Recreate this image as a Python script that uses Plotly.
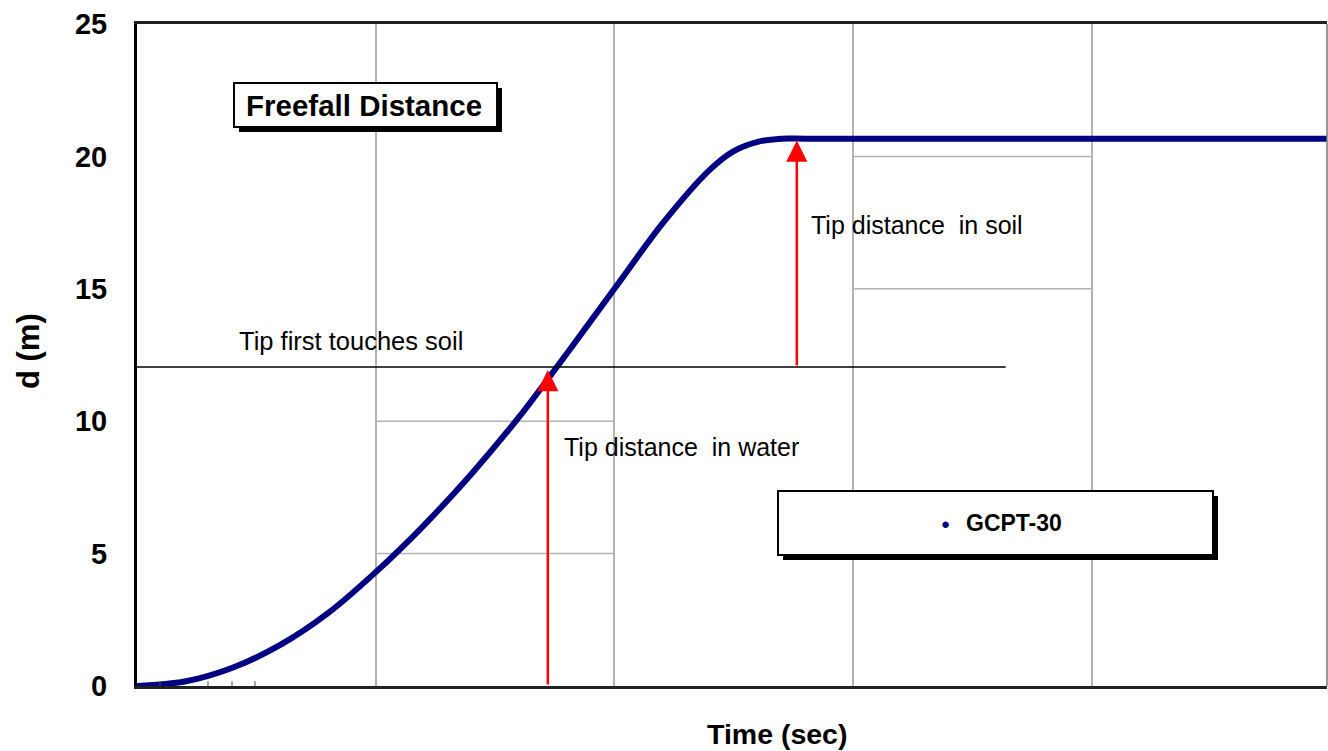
import plotly.graph_objects as go

# ---- data ----
time_s = [0.0, 0.2, 0.4, 0.6, 0.8, 1.0, 1.2, 1.4, 1.6, 1.8,
          2.0, 2.2, 2.4, 2.5, 2.6, 2.7, 2.8, 3.5, 4.985]
depth_m = [0.0, 0.17, 0.69, 1.55, 2.75, 4.3, 6.05, 8.0, 10.15, 12.55,
           15.0, 17.45, 19.5, 20.2, 20.55, 20.67, 20.67, 20.67, 20.67]
series_name = "GCPT-30"

soil_level = 12.05
soil_line_end = 3.639
arrow_water_x = 1.721
arrow_water_top = 11.93
arrow_soil_x = 2.764
arrow_soil_top = 20.6

y_ticks = [0, 5, 10, 15, 20, 25]
x_max = 4.985

W, H = 1328, 751
PL, PR, PT, PB = 137, 1327, 24, 686   # plot area in page pixels
PW, PH = PR - PL, PB - PT


def px(x):
    return (x - PL) / PW


def py(y):
    return (PB - y) / PH


NAVY = "#000080"
GRID = "#b3b3b3"
FONT = "Liberation Sans, Arial, sans-serif"

fig = go.Figure()
fig.add_trace(go.Scatter(
    x=time_s, y=depth_m, mode="lines", name=series_name,
    line=dict(color=NAVY, width=6, shape="spline", smoothing=0.9),
    showlegend=False, hoverinfo="skip",
))

shapes = []
for (x0, x1, yv) in [(1, 2, 10), (1, 2, 5), (3, 4, 20), (3, 4, 15)]:
    shapes.append(dict(type="line", xref="x", yref="y", x0=x0, x1=x1, y0=yv, y1=yv,
                       line=dict(color=GRID, width=1.5), layer="below"))
shapes.append(dict(type="line", xref="paper", yref="paper", x0=1, x1=1, y0=0, y1=1,
                   line=dict(color="#777777", width=1.5)))
shapes.append(dict(type="line", xref="x", yref="y", x0=0, x1=soil_line_end,
                   y0=soil_level, y1=soil_level, line=dict(color="black", width=1.5)))
for xp in [160, 208, 232, 255]:
    shapes.append(dict(type="line", xref="paper", yref="paper", x0=px(xp), x1=px(xp),
                       y0=0, y1=py(681), line=dict(color="#555555", width=1)))


def boxed(x0, y0, x1, y1, off=5):
    shapes.append(dict(type="rect", xref="paper", yref="paper",
                       x0=px(x0 + off), x1=px(x1 + off), y0=py(y1 + off), y1=py(y0 + off),
                       fillcolor="black", line=dict(width=0), layer="above"))
    shapes.append(dict(type="rect", xref="paper", yref="paper",
                       x0=px(x0), x1=px(x1), y0=py(y1), y1=py(y0),
                       fillcolor="white", line=dict(color="black", width=2), layer="above"))


boxed(234, 83, 497, 127)
boxed(778, 491, 1213, 555)


def label(x, y, text, size, anchor="left", color="black", angle=0):
    return dict(xref="paper", yref="paper", x=px(x), y=py(y), text=text,
                xanchor=anchor, yanchor="middle", showarrow=False, textangle=angle,
                font=dict(family=FONT, size=size, color=color))


annotations = [
    label(364, 106, "<b>Freefall Distance</b>", 29.5, "center"),
    label(945, 523, "●", 15, "center", NAVY),
    label(964, 523, "<b>" + series_name + "</b>", 23),
    label(237, 341, "Tip first touches soil", 25.5),
    label(562, 447, "Tip distance\u00a0 in water", 25),
    label(809, 225, "Tip distance\u00a0 in soil", 25),
    label(777, 734, "<b>Time (sec)</b>", 28.5, "center"),
    label(28, 351, "<b>d (m)</b>", 31, "center", angle=-90),
    dict(xref="x", yref="y", axref="x", ayref="y", x=arrow_water_x, y=arrow_water_top,
         ax=arrow_water_x, ay=0, text="", showarrow=True, arrowhead=2, arrowsize=1.7,
         arrowwidth=2.5, arrowcolor="red"),
    dict(xref="x", yref="y", axref="x", ayref="y", x=arrow_soil_x, y=arrow_soil_top,
         ax=arrow_soil_x, ay=soil_level, text="", showarrow=True, arrowhead=2, arrowsize=1.7,
         arrowwidth=2.5, arrowcolor="red"),
]

fig.update_layout(
    width=W, height=H,
    margin=dict(l=PL, r=W - PR, t=PT, b=H - PB, pad=0),
    paper_bgcolor="white", plot_bgcolor="white",
    showlegend=False,
    shapes=shapes,
    annotations=annotations,
    xaxis=dict(range=[0, x_max], dtick=1, tick0=0, showgrid=True, gridcolor=GRID, gridwidth=1.5,
               showticklabels=False, ticks="", zeroline=False,
               showline=True, linecolor="#222222", linewidth=3, mirror=True),
    yaxis=dict(range=[0, 25], tickvals=y_ticks, showgrid=False, zeroline=False,
               ticks="", ticklabelstandoff=21,
               tickfont=dict(family=FONT, size=29, color="black", weight="bold"),
               showline=True, linecolor="black", linewidth=3),
)

fig.write_html(
    "out.html",
    config={"displayModeBar": False},
    post_script="document.body.style.margin='0';document.body.style.overflow='hidden';",
)
